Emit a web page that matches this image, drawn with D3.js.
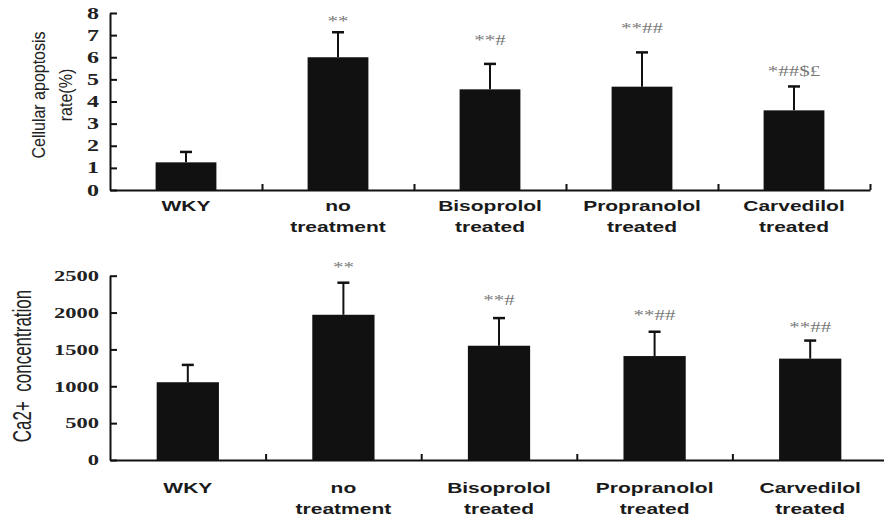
<!DOCTYPE html>
<html>
<head>
<meta charset="utf-8">
<script src="https://cdn.jsdelivr.net/npm/d3@7"></script>
<style>
  body { margin: 0; background: #fff; }
  svg { display: block; }
</style>
</head>
<body>
<script>
// groups on the x axis, and how their labels wrap
const groups = ["WKY", "no treatment", "Bisoprolol treated", "Propranolol treated", "Carvedilol treated"];
const groupLines = [["WKY"], ["no", "treatment"], ["Bisoprolol", "treated"], ["Propranolol", "treated"], ["Carvedilol", "treated"]];

// top panel: apoptosis rate (%)
const apoptosisMean = [1.25, 6.0, 4.55, 4.67, 3.6];
const apoptosisSD = [0.47, 1.13, 1.15, 1.55, 1.08];
const apoptosisMarks = ["", "**", "**#", "**##", "*##$£"];
const apoptosisMarkAt = [null, 7.4, 6.54, 7.1, 5.16];
const apoptosisTicks = [0, 1, 2, 3, 4, 5, 6, 7, 8];

// bottom panel: Ca2+ concentration
const calciumMean = [1055, 1970, 1550, 1410, 1375];
const calciumSD = [235, 435, 375, 330, 245];
const calciumMarks = ["", "**", "**#", "**##", "**##"];
const calciumMarkAt = [null, 2544, 2103, 1900, 1737];
const calciumTicks = [0, 500, 1000, 1500, 2000, 2500];

const SX = 1.5; // the figure's text is stretched sideways

const svg = d3.select("body").append("svg")
  .attr("width", 884)
  .attr("height", 520);

function drawPanel(p) {
  const g = svg.append("g");

  const x = d3.scaleBand()
    .domain(groups)
    .range(p.xRange)
    .paddingInner(0.6)
    .paddingOuter(0.3);

  const y = d3.scaleLinear()
    .domain([0, d3.max(p.ticks)])
    .range(p.yRange);

  // bars
  g.selectAll("rect.bar")
    .data(groups)
    .join("rect")
    .attr("class", "bar")
    .attr("x", (d) => x(d))
    .attr("y", (d, i) => y(p.mean[i]))
    .attr("width", x.bandwidth())
    .attr("height", (d, i) => y(0) - y(p.mean[i]))
    .attr("fill", "#111");

  // error bars (upper half only)
  const cx = (d) => x(d) + x.bandwidth() / 2;
  g.selectAll("line.err")
    .data(groups)
    .join("line")
    .attr("class", "err")
    .attr("x1", cx).attr("x2", cx)
    .attr("y1", (d, i) => y(p.mean[i]))
    .attr("y2", (d, i) => y(p.mean[i] + p.sd[i]))
    .attr("stroke", "#111")
    .attr("stroke-width", 2);
  g.selectAll("line.cap")
    .data(groups)
    .join("line")
    .attr("class", "cap")
    .attr("x1", (d) => cx(d) - 6).attr("x2", (d) => cx(d) + 6)
    .attr("y1", (d, i) => y(p.mean[i] + p.sd[i]))
    .attr("y2", (d, i) => y(p.mean[i] + p.sd[i]))
    .attr("stroke", "#111")
    .attr("stroke-width", 2.5);

  // significance marks
  g.selectAll("text.mark")
    .data(groups)
    .join("text")
    .attr("class", "mark")
    .attr("transform", (d, i) =>
      p.markAt[i] == null ? null : `translate(${cx(d)},${y(p.markAt[i])}) scale(${SX},1)`)
    .attr("text-anchor", "middle")
    .attr("font-family", "'Liberation Serif', 'Times New Roman', serif")
    .attr("font-size", 14)
    .attr("fill", "#777")
    .text((d, i) => p.marks[i]);

  // y axis, ticks pointing inward
  const yAxis = g.append("g")
    .attr("transform", `translate(${p.xRange[0]},0)`)
    .call(d3.axisLeft(y).tickValues(p.ticks).tickFormat(d3.format("d"))
      .tickSizeInner(-7).tickSizeOuter(0).tickPadding(11));
  yAxis.select(".domain").attr("stroke", "#111").attr("stroke-width", 2);
  yAxis.selectAll(".tick line").attr("stroke", "#111").attr("stroke-width", 2);
  yAxis.selectAll(".tick text")
    .attr("x", null)
    .attr("transform", `translate(-11,0) scale(${SX},1)`)
    .attr("font-family", "'Liberation Serif', 'Times New Roman', serif")
    .attr("font-weight", "bold")
    .attr("font-size", p.tickFont)
    .attr("fill", "#222");

  // x axis line
  const xAxis = g.append("g")
    .attr("transform", `translate(0,${y(0)})`)
    .call(d3.axisBottom(x).tickSize(0).tickFormat(""));
  xAxis.select(".domain").attr("stroke", "#111").attr("stroke-width", 2);

  // small upward ticks between the groups
  const edges = d3.scaleLinear().domain([0, groups.length]).range(p.xRange);
  const edgeAxis = g.append("g")
    .attr("transform", `translate(0,${y(0)})`)
    .call(d3.axisBottom(edges).tickValues(d3.range(1, groups.length + 1))
      .tickSizeInner(-6).tickSizeOuter(0).tickFormat(""));
  edgeAxis.select(".domain").remove();
  edgeAxis.selectAll(".tick line").attr("stroke", "#111").attr("stroke-width", 2);

  // group labels
  groups.forEach((d, i) => {
    groupLines[i].forEach((line, k) => {
      g.append("text")
        .attr("transform", `translate(${cx(d)},${p.labelBase + k * p.labelStep}) scale(${SX},1)`)
        .attr("text-anchor", "middle")
        .attr("font-family", "'Liberation Sans', Arial, sans-serif")
        .attr("font-weight", "bold")
        .attr("font-size", 14)
        .attr("fill", "#1a1a1a")
        .text(line);
    });
  });

  // y title
  p.title.forEach((line, k) => {
    g.append("text")
      .attr("transform", `translate(${p.titleX[k]},${p.titleY}) scale(${p.titleSX},1) rotate(-90)`)
      .attr("text-anchor", "middle")
      .attr("font-family", "'Liberation Sans', Arial, sans-serif")
      .attr("font-size", p.titleFont)
      .attr("fill", "#222")
      .style("white-space", "pre")
      .text(line);
  });
}

drawPanel({
  xRange: [110, 870],
  yRange: [190, 13],
  mean: apoptosisMean,
  sd: apoptosisSD,
  marks: apoptosisMarks,
  markAt: apoptosisMarkAt,
  ticks: apoptosisTicks,
  tickFont: 16,
  labelBase: 211,
  labelStep: 21,
  title: ["Cellular apoptosis", "rate(%)"],
  titleX: [45, 72],
  titleY: 95,
  titleSX: 1.15,
  titleFont: 16
});

drawPanel({
  xRange: [110, 888],
  yRange: [460, 275.7],
  mean: calciumMean,
  sd: calciumSD,
  marks: calciumMarks,
  markAt: calciumMarkAt,
  ticks: calciumTicks,
  tickFont: 15,
  labelBase: 493,
  labelStep: 21,
  title: ["Ca2+  concentration"],
  titleX: [31],
  titleY: 366,
  titleSX: SX,
  titleFont: 17
});
</script>
</body>
</html>
